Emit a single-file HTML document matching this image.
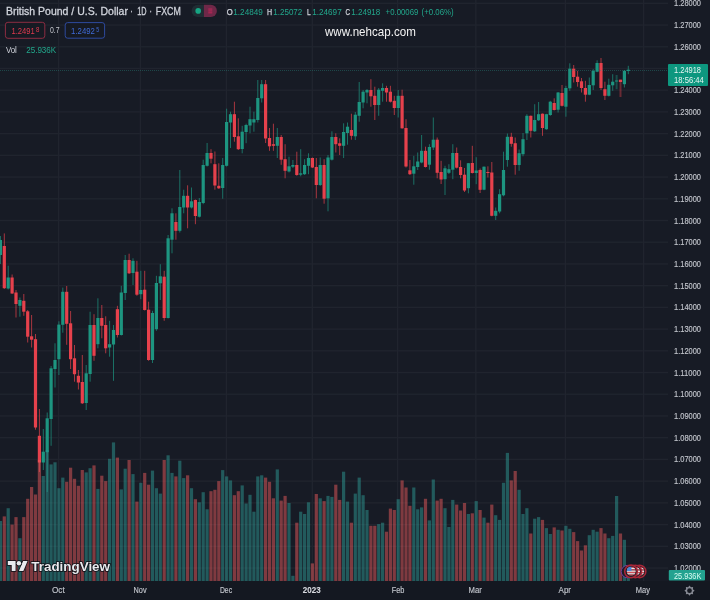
<!DOCTYPE html>
<html><head><meta charset="utf-8"><title>GBPUSD chart</title><style>
html,body{margin:0;padding:0;background:#171b25;}
#c{position:relative;width:710px;height:600px;overflow:hidden;}
svg{position:absolute;left:0;top:0;display:block;}
</style></head><body><div id="c">
<svg width="710" height="600" viewBox="0 0 710 600">
<rect x="0" y="0" width="710" height="600" fill="#171b25"/>
<rect x="0" y="581" width="710" height="19" fill="#141821"/>
<rect x="0" y="2.60" width="668" height="1.4" fill="#20242e"/>
<rect x="0" y="24.32" width="668" height="1.4" fill="#20242e"/>
<rect x="0" y="46.04" width="668" height="1.4" fill="#20242e"/>
<rect x="0" y="67.76" width="668" height="1.4" fill="#20242e"/>
<rect x="0" y="89.48" width="668" height="1.4" fill="#20242e"/>
<rect x="0" y="111.20" width="668" height="1.4" fill="#20242e"/>
<rect x="0" y="132.92" width="668" height="1.4" fill="#20242e"/>
<rect x="0" y="154.64" width="668" height="1.4" fill="#20242e"/>
<rect x="0" y="176.36" width="668" height="1.4" fill="#20242e"/>
<rect x="0" y="198.08" width="668" height="1.4" fill="#20242e"/>
<rect x="0" y="219.80" width="668" height="1.4" fill="#20242e"/>
<rect x="0" y="241.52" width="668" height="1.4" fill="#20242e"/>
<rect x="0" y="263.24" width="668" height="1.4" fill="#20242e"/>
<rect x="0" y="284.96" width="668" height="1.4" fill="#20242e"/>
<rect x="0" y="306.68" width="668" height="1.4" fill="#20242e"/>
<rect x="0" y="328.40" width="668" height="1.4" fill="#20242e"/>
<rect x="0" y="350.12" width="668" height="1.4" fill="#20242e"/>
<rect x="0" y="371.84" width="668" height="1.4" fill="#20242e"/>
<rect x="0" y="393.56" width="668" height="1.4" fill="#20242e"/>
<rect x="0" y="415.28" width="668" height="1.4" fill="#20242e"/>
<rect x="0" y="437.00" width="668" height="1.4" fill="#20242e"/>
<rect x="0" y="458.72" width="668" height="1.4" fill="#20242e"/>
<rect x="0" y="480.44" width="668" height="1.4" fill="#20242e"/>
<rect x="0" y="502.16" width="668" height="1.4" fill="#20242e"/>
<rect x="0" y="523.88" width="668" height="1.4" fill="#20242e"/>
<rect x="0" y="545.60" width="668" height="1.4" fill="#20242e"/>
<rect x="0" y="567.32" width="668" height="1.4" fill="#20242e"/>
<rect x="57.9" y="0" width="1.4" height="581" fill="#20242e"/>
<rect x="139.7" y="0" width="1.4" height="581" fill="#20242e"/>
<rect x="225.7" y="0" width="1.4" height="581" fill="#20242e"/>
<rect x="311.6" y="0" width="1.4" height="581" fill="#20242e"/>
<rect x="396.9" y="0" width="1.4" height="581" fill="#20242e"/>
<rect x="475.1" y="0" width="1.4" height="581" fill="#20242e"/>
<rect x="564.7" y="0" width="1.4" height="581" fill="#20242e"/>
<rect x="642.9" y="0" width="1.4" height="581" fill="#20242e"/>
<rect x="-0.10" y="236.00" width="1" height="28.00" fill="#1d9580" opacity="0.7"/>
<rect x="-1.20" y="240.00" width="3.2" height="15.00" fill="#1d9580"/>
<rect x="3.80" y="233.40" width="1" height="55.60" fill="#e6414c" opacity="0.7"/>
<rect x="2.70" y="246.00" width="3.2" height="42.20" fill="#e6414c"/>
<rect x="7.70" y="265.70" width="1" height="23.80" fill="#1d9580" opacity="0.7"/>
<rect x="6.60" y="277.50" width="3.2" height="11.00" fill="#1d9580"/>
<rect x="11.60" y="274.50" width="1" height="19.50" fill="#e6414c" opacity="0.7"/>
<rect x="10.50" y="277.50" width="3.2" height="16.00" fill="#e6414c"/>
<rect x="15.50" y="290.00" width="1" height="27.50" fill="#e6414c" opacity="0.7"/>
<rect x="14.40" y="292.50" width="3.2" height="11.50" fill="#e6414c"/>
<rect x="19.40" y="297.50" width="1" height="19.20" fill="#1d9580" opacity="0.7"/>
<rect x="18.30" y="300.00" width="3.2" height="5.80" fill="#1d9580"/>
<rect x="23.30" y="294.00" width="1" height="21.80" fill="#e6414c" opacity="0.7"/>
<rect x="22.20" y="300.80" width="3.2" height="10.90" fill="#e6414c"/>
<rect x="27.20" y="310.00" width="1" height="32.50" fill="#e6414c" opacity="0.7"/>
<rect x="26.10" y="311.30" width="3.2" height="25.40" fill="#e6414c"/>
<rect x="31.10" y="315.00" width="1" height="32.50" fill="#e6414c" opacity="0.7"/>
<rect x="30.00" y="336.30" width="3.2" height="3.40" fill="#e6414c"/>
<rect x="35.00" y="334.00" width="1" height="95.70" fill="#e6414c" opacity="0.7"/>
<rect x="33.90" y="339.20" width="3.2" height="88.30" fill="#e6414c"/>
<rect x="38.90" y="409.00" width="1" height="63.00" fill="#e6414c" opacity="0.7"/>
<rect x="37.80" y="435.80" width="3.2" height="26.70" fill="#e6414c"/>
<rect x="42.80" y="429.00" width="1" height="41.00" fill="#1d9580" opacity="0.7"/>
<rect x="41.70" y="451.70" width="3.2" height="10.80" fill="#1d9580"/>
<rect x="46.70" y="412.50" width="1" height="79.50" fill="#1d9580" opacity="0.7"/>
<rect x="45.60" y="418.30" width="3.2" height="33.90" fill="#1d9580"/>
<rect x="50.60" y="366.00" width="1" height="79.80" fill="#1d9580" opacity="0.7"/>
<rect x="49.50" y="368.30" width="3.2" height="50.70" fill="#1d9580"/>
<rect x="54.50" y="343.30" width="1" height="44.20" fill="#1d9580" opacity="0.7"/>
<rect x="53.40" y="360.00" width="3.2" height="9.00" fill="#1d9580"/>
<rect x="58.40" y="321.30" width="1" height="53.70" fill="#1d9580" opacity="0.7"/>
<rect x="57.30" y="324.60" width="3.2" height="34.60" fill="#1d9580"/>
<rect x="62.30" y="287.60" width="1" height="45.10" fill="#1d9580" opacity="0.7"/>
<rect x="61.20" y="291.80" width="3.2" height="33.00" fill="#1d9580"/>
<rect x="66.20" y="286.00" width="1" height="58.80" fill="#e6414c" opacity="0.7"/>
<rect x="65.10" y="291.80" width="3.2" height="32.00" fill="#e6414c"/>
<rect x="70.10" y="311.00" width="1" height="58.00" fill="#e6414c" opacity="0.7"/>
<rect x="69.00" y="323.30" width="3.2" height="35.90" fill="#e6414c"/>
<rect x="74.00" y="345.00" width="1" height="36.70" fill="#e6414c" opacity="0.7"/>
<rect x="72.90" y="358.30" width="3.2" height="15.90" fill="#e6414c"/>
<rect x="77.90" y="370.00" width="1" height="19.50" fill="#e6414c" opacity="0.7"/>
<rect x="76.80" y="375.80" width="3.2" height="6.70" fill="#e6414c"/>
<rect x="81.80" y="355.00" width="1" height="49.00" fill="#e6414c" opacity="0.7"/>
<rect x="80.70" y="382.00" width="3.2" height="21.30" fill="#e6414c"/>
<rect x="85.70" y="365.00" width="1" height="45.00" fill="#1d9580" opacity="0.7"/>
<rect x="84.60" y="373.30" width="3.2" height="29.70" fill="#1d9580"/>
<rect x="89.60" y="311.70" width="1" height="70.00" fill="#1d9580" opacity="0.7"/>
<rect x="88.50" y="325.00" width="3.2" height="49.00" fill="#1d9580"/>
<rect x="93.50" y="314.20" width="1" height="46.60" fill="#e6414c" opacity="0.7"/>
<rect x="92.40" y="325.00" width="3.2" height="30.80" fill="#e6414c"/>
<rect x="97.40" y="298.30" width="1" height="50.00" fill="#1d9580" opacity="0.7"/>
<rect x="96.30" y="318.00" width="3.2" height="26.20" fill="#1d9580"/>
<rect x="101.30" y="305.00" width="1" height="33.30" fill="#e6414c" opacity="0.7"/>
<rect x="100.20" y="318.00" width="3.2" height="7.80" fill="#e6414c"/>
<rect x="105.20" y="316.30" width="1" height="37.00" fill="#e6414c" opacity="0.7"/>
<rect x="104.10" y="325.00" width="3.2" height="23.30" fill="#e6414c"/>
<rect x="109.10" y="320.80" width="1" height="35.90" fill="#1d9580" opacity="0.7"/>
<rect x="108.00" y="344.20" width="3.2" height="3.30" fill="#1d9580"/>
<rect x="113.00" y="325.00" width="1" height="55.80" fill="#1d9580" opacity="0.7"/>
<rect x="111.90" y="330.00" width="3.2" height="14.50" fill="#1d9580"/>
<rect x="116.90" y="305.80" width="1" height="31.70" fill="#e6414c" opacity="0.7"/>
<rect x="115.80" y="309.20" width="3.2" height="25.80" fill="#e6414c"/>
<rect x="120.80" y="285.80" width="1" height="49.70" fill="#1d9580" opacity="0.7"/>
<rect x="119.70" y="292.50" width="3.2" height="42.50" fill="#1d9580"/>
<rect x="124.70" y="255.00" width="1" height="45.00" fill="#1d9580" opacity="0.7"/>
<rect x="123.60" y="260.00" width="3.2" height="33.00" fill="#1d9580"/>
<rect x="128.60" y="253.70" width="1" height="20.30" fill="#e6414c" opacity="0.7"/>
<rect x="127.50" y="260.00" width="3.2" height="13.30" fill="#e6414c"/>
<rect x="132.50" y="258.30" width="1" height="26.70" fill="#1d9580" opacity="0.7"/>
<rect x="131.40" y="260.80" width="3.2" height="12.20" fill="#1d9580"/>
<rect x="136.40" y="260.80" width="1" height="35.00" fill="#e6414c" opacity="0.7"/>
<rect x="135.30" y="271.70" width="3.2" height="23.00" fill="#e6414c"/>
<rect x="140.30" y="270.80" width="1" height="28.40" fill="#1d9580" opacity="0.7"/>
<rect x="139.20" y="290.00" width="3.2" height="4.20" fill="#1d9580"/>
<rect x="144.20" y="270.80" width="1" height="39.70" fill="#e6414c" opacity="0.7"/>
<rect x="143.10" y="289.70" width="3.2" height="20.30" fill="#e6414c"/>
<rect x="148.10" y="301.70" width="1" height="59.10" fill="#e6414c" opacity="0.7"/>
<rect x="147.00" y="309.70" width="3.2" height="50.30" fill="#e6414c"/>
<rect x="152.00" y="310.80" width="1" height="52.20" fill="#1d9580" opacity="0.7"/>
<rect x="150.90" y="313.00" width="3.2" height="47.00" fill="#1d9580"/>
<rect x="155.90" y="275.80" width="1" height="55.00" fill="#1d9580" opacity="0.7"/>
<rect x="154.80" y="283.00" width="3.2" height="46.20" fill="#1d9580"/>
<rect x="159.80" y="264.20" width="1" height="35.80" fill="#1d9580" opacity="0.7"/>
<rect x="158.70" y="276.30" width="3.2" height="7.00" fill="#1d9580"/>
<rect x="163.70" y="270.80" width="1" height="50.00" fill="#e6414c" opacity="0.7"/>
<rect x="162.60" y="276.70" width="3.2" height="41.30" fill="#e6414c"/>
<rect x="167.60" y="235.00" width="1" height="83.50" fill="#1d9580" opacity="0.7"/>
<rect x="166.50" y="238.30" width="3.2" height="79.70" fill="#1d9580"/>
<rect x="171.50" y="208.30" width="1" height="45.00" fill="#1d9580" opacity="0.7"/>
<rect x="170.40" y="213.30" width="3.2" height="26.40" fill="#1d9580"/>
<rect x="175.40" y="213.30" width="1" height="26.40" fill="#e6414c" opacity="0.7"/>
<rect x="174.30" y="222.00" width="3.2" height="8.80" fill="#e6414c"/>
<rect x="179.30" y="170.00" width="1" height="62.50" fill="#1d9580" opacity="0.7"/>
<rect x="178.20" y="207.00" width="3.2" height="23.80" fill="#1d9580"/>
<rect x="183.20" y="189.70" width="1" height="23.60" fill="#1d9580" opacity="0.7"/>
<rect x="182.10" y="195.80" width="3.2" height="11.70" fill="#1d9580"/>
<rect x="187.10" y="185.30" width="1" height="43.00" fill="#e6414c" opacity="0.7"/>
<rect x="186.00" y="195.80" width="3.2" height="11.70" fill="#e6414c"/>
<rect x="191.00" y="187.50" width="1" height="21.00" fill="#1d9580" opacity="0.7"/>
<rect x="189.90" y="201.30" width="3.2" height="6.20" fill="#1d9580"/>
<rect x="194.90" y="199.50" width="1" height="24.70" fill="#e6414c" opacity="0.7"/>
<rect x="193.80" y="200.00" width="3.2" height="16.00" fill="#e6414c"/>
<rect x="198.80" y="198.00" width="1" height="19.50" fill="#1d9580" opacity="0.7"/>
<rect x="197.70" y="202.00" width="3.2" height="14.70" fill="#1d9580"/>
<rect x="202.70" y="159.70" width="1" height="44.50" fill="#1d9580" opacity="0.7"/>
<rect x="201.60" y="165.00" width="3.2" height="38.00" fill="#1d9580"/>
<rect x="206.60" y="143.00" width="1" height="23.50" fill="#1d9580" opacity="0.7"/>
<rect x="205.50" y="153.00" width="3.2" height="12.80" fill="#1d9580"/>
<rect x="210.50" y="149.20" width="1" height="14.10" fill="#e6414c" opacity="0.7"/>
<rect x="209.40" y="153.00" width="3.2" height="5.70" fill="#e6414c"/>
<rect x="214.40" y="151.50" width="1" height="38.20" fill="#e6414c" opacity="0.7"/>
<rect x="213.30" y="164.20" width="3.2" height="21.30" fill="#e6414c"/>
<rect x="218.30" y="163.30" width="1" height="25.70" fill="#e6414c" opacity="0.7"/>
<rect x="217.20" y="185.80" width="3.2" height="2.50" fill="#e6414c"/>
<rect x="222.20" y="158.00" width="1" height="40.70" fill="#1d9580" opacity="0.7"/>
<rect x="221.10" y="165.00" width="3.2" height="23.00" fill="#1d9580"/>
<rect x="226.10" y="108.70" width="1" height="57.80" fill="#1d9580" opacity="0.7"/>
<rect x="225.00" y="122.00" width="3.2" height="43.80" fill="#1d9580"/>
<rect x="230.00" y="111.70" width="1" height="36.30" fill="#1d9580" opacity="0.7"/>
<rect x="228.90" y="114.20" width="3.2" height="8.30" fill="#1d9580"/>
<rect x="233.90" y="101.70" width="1" height="40.00" fill="#e6414c" opacity="0.7"/>
<rect x="232.80" y="114.20" width="3.2" height="22.80" fill="#e6414c"/>
<rect x="237.80" y="118.30" width="1" height="31.70" fill="#e6414c" opacity="0.7"/>
<rect x="236.70" y="136.30" width="3.2" height="12.90" fill="#e6414c"/>
<rect x="241.70" y="125.80" width="1" height="27.50" fill="#1d9580" opacity="0.7"/>
<rect x="240.60" y="131.70" width="3.2" height="17.30" fill="#1d9580"/>
<rect x="245.60" y="123.70" width="1" height="19.50" fill="#1d9580" opacity="0.7"/>
<rect x="244.50" y="125.00" width="3.2" height="7.00" fill="#1d9580"/>
<rect x="249.50" y="106.70" width="1" height="26.60" fill="#1d9580" opacity="0.7"/>
<rect x="248.40" y="119.20" width="3.2" height="6.30" fill="#1d9580"/>
<rect x="253.40" y="111.70" width="1" height="20.00" fill="#1d9580" opacity="0.7"/>
<rect x="252.30" y="119.20" width="3.2" height="3.30" fill="#1d9580"/>
<rect x="257.30" y="80.00" width="1" height="42.50" fill="#1d9580" opacity="0.7"/>
<rect x="256.20" y="98.00" width="3.2" height="22.00" fill="#1d9580"/>
<rect x="261.20" y="80.00" width="1" height="22.50" fill="#1d9580" opacity="0.7"/>
<rect x="260.10" y="84.20" width="3.2" height="14.10" fill="#1d9580"/>
<rect x="265.10" y="80.00" width="1" height="63.00" fill="#e6414c" opacity="0.7"/>
<rect x="264.00" y="84.20" width="3.2" height="54.30" fill="#e6414c"/>
<rect x="269.00" y="128.00" width="1" height="22.80" fill="#e6414c" opacity="0.7"/>
<rect x="267.90" y="138.00" width="3.2" height="8.30" fill="#e6414c"/>
<rect x="272.90" y="123.70" width="1" height="27.10" fill="#e6414c" opacity="0.7"/>
<rect x="271.80" y="144.20" width="3.2" height="1.60" fill="#e6414c"/>
<rect x="276.80" y="128.00" width="1" height="30.00" fill="#1d9580" opacity="0.7"/>
<rect x="275.70" y="137.00" width="3.2" height="8.80" fill="#1d9580"/>
<rect x="280.70" y="135.00" width="1" height="29.80" fill="#e6414c" opacity="0.7"/>
<rect x="279.60" y="137.00" width="3.2" height="22.70" fill="#e6414c"/>
<rect x="284.60" y="144.20" width="1" height="34.10" fill="#e6414c" opacity="0.7"/>
<rect x="283.50" y="159.20" width="3.2" height="11.60" fill="#e6414c"/>
<rect x="288.50" y="156.70" width="1" height="15.80" fill="#1d9580" opacity="0.7"/>
<rect x="287.40" y="166.30" width="3.2" height="5.20" fill="#1d9580"/>
<rect x="292.40" y="160.00" width="1" height="8.00" fill="#1d9580" opacity="0.7"/>
<rect x="291.30" y="165.00" width="3.2" height="1.70" fill="#1d9580"/>
<rect x="296.30" y="151.70" width="1" height="24.10" fill="#e6414c" opacity="0.7"/>
<rect x="295.20" y="165.00" width="3.2" height="10.00" fill="#e6414c"/>
<rect x="300.20" y="149.20" width="1" height="27.10" fill="#1d9580" opacity="0.7"/>
<rect x="299.10" y="173.30" width="3.2" height="1.40" fill="#1d9580"/>
<rect x="304.10" y="159.20" width="1" height="15.80" fill="#1d9580" opacity="0.7"/>
<rect x="303.00" y="165.00" width="3.2" height="9.20" fill="#1d9580"/>
<rect x="308.00" y="153.30" width="1" height="20.90" fill="#1d9580" opacity="0.7"/>
<rect x="306.90" y="158.00" width="3.2" height="7.80" fill="#1d9580"/>
<rect x="311.90" y="157.50" width="1" height="10.50" fill="#e6414c" opacity="0.7"/>
<rect x="310.80" y="158.00" width="3.2" height="9.50" fill="#e6414c"/>
<rect x="315.80" y="158.00" width="1" height="40.30" fill="#e6414c" opacity="0.7"/>
<rect x="314.70" y="167.00" width="3.2" height="18.00" fill="#e6414c"/>
<rect x="319.70" y="157.50" width="1" height="28.50" fill="#1d9580" opacity="0.7"/>
<rect x="318.60" y="165.00" width="3.2" height="20.00" fill="#1d9580"/>
<rect x="323.60" y="159.20" width="1" height="44.50" fill="#e6414c" opacity="0.7"/>
<rect x="322.50" y="165.00" width="3.2" height="33.70" fill="#e6414c"/>
<rect x="327.50" y="155.00" width="1" height="56.30" fill="#1d9580" opacity="0.7"/>
<rect x="326.40" y="157.50" width="3.2" height="40.80" fill="#1d9580"/>
<rect x="331.40" y="131.30" width="1" height="29.20" fill="#1d9580" opacity="0.7"/>
<rect x="330.30" y="137.00" width="3.2" height="22.70" fill="#1d9580"/>
<rect x="335.30" y="133.30" width="1" height="19.20" fill="#e6414c" opacity="0.7"/>
<rect x="334.20" y="137.00" width="3.2" height="7.20" fill="#e6414c"/>
<rect x="339.20" y="138.30" width="1" height="16.70" fill="#e6414c" opacity="0.7"/>
<rect x="338.10" y="143.30" width="3.2" height="2.50" fill="#e6414c"/>
<rect x="343.10" y="123.30" width="1" height="34.70" fill="#1d9580" opacity="0.7"/>
<rect x="342.00" y="132.00" width="3.2" height="13.80" fill="#1d9580"/>
<rect x="347.00" y="122.50" width="1" height="22.20" fill="#1d9580" opacity="0.7"/>
<rect x="345.90" y="126.70" width="3.2" height="6.30" fill="#1d9580"/>
<rect x="350.90" y="113.70" width="1" height="26.00" fill="#e6414c" opacity="0.7"/>
<rect x="349.80" y="130.00" width="3.2" height="5.80" fill="#e6414c"/>
<rect x="354.80" y="112.00" width="1" height="28.00" fill="#1d9580" opacity="0.7"/>
<rect x="353.70" y="114.70" width="3.2" height="21.60" fill="#1d9580"/>
<rect x="358.70" y="82.00" width="1" height="39.70" fill="#1d9580" opacity="0.7"/>
<rect x="357.60" y="102.00" width="3.2" height="13.80" fill="#1d9580"/>
<rect x="362.60" y="90.00" width="1" height="18.30" fill="#1d9580" opacity="0.7"/>
<rect x="361.50" y="91.70" width="3.2" height="10.80" fill="#1d9580"/>
<rect x="366.50" y="89.00" width="1" height="14.30" fill="#1d9580" opacity="0.7"/>
<rect x="365.40" y="90.00" width="3.2" height="2.50" fill="#1d9580"/>
<rect x="370.40" y="79.20" width="1" height="27.50" fill="#e6414c" opacity="0.7"/>
<rect x="369.30" y="90.00" width="3.2" height="6.30" fill="#e6414c"/>
<rect x="374.30" y="86.70" width="1" height="33.30" fill="#e6414c" opacity="0.7"/>
<rect x="373.20" y="95.80" width="3.2" height="9.20" fill="#e6414c"/>
<rect x="378.20" y="88.00" width="1" height="27.80" fill="#1d9580" opacity="0.7"/>
<rect x="377.10" y="89.70" width="3.2" height="15.30" fill="#1d9580"/>
<rect x="382.10" y="83.30" width="1" height="18.40" fill="#1d9580" opacity="0.7"/>
<rect x="381.00" y="88.00" width="3.2" height="2.80" fill="#1d9580"/>
<rect x="386.00" y="85.80" width="1" height="15.90" fill="#e6414c" opacity="0.7"/>
<rect x="384.90" y="88.00" width="3.2" height="4.50" fill="#e6414c"/>
<rect x="389.90" y="85.80" width="1" height="16.70" fill="#e6414c" opacity="0.7"/>
<rect x="388.80" y="91.70" width="3.2" height="10.00" fill="#e6414c"/>
<rect x="393.80" y="95.80" width="1" height="19.20" fill="#e6414c" opacity="0.7"/>
<rect x="392.70" y="100.80" width="3.2" height="7.20" fill="#e6414c"/>
<rect x="397.70" y="90.00" width="1" height="27.50" fill="#1d9580" opacity="0.7"/>
<rect x="396.60" y="95.80" width="3.2" height="12.20" fill="#1d9580"/>
<rect x="401.60" y="89.70" width="1" height="39.00" fill="#e6414c" opacity="0.7"/>
<rect x="400.50" y="95.80" width="3.2" height="32.50" fill="#e6414c"/>
<rect x="405.50" y="119.20" width="1" height="48.30" fill="#e6414c" opacity="0.7"/>
<rect x="404.40" y="128.00" width="3.2" height="38.50" fill="#e6414c"/>
<rect x="409.40" y="160.00" width="1" height="15.00" fill="#e6414c" opacity="0.7"/>
<rect x="408.30" y="170.30" width="3.2" height="3.90" fill="#e6414c"/>
<rect x="413.30" y="155.80" width="1" height="28.90" fill="#1d9580" opacity="0.7"/>
<rect x="412.20" y="166.30" width="3.2" height="7.40" fill="#1d9580"/>
<rect x="417.20" y="152.50" width="1" height="17.50" fill="#1d9580" opacity="0.7"/>
<rect x="416.10" y="161.50" width="3.2" height="5.50" fill="#1d9580"/>
<rect x="421.10" y="135.00" width="1" height="28.30" fill="#1d9580" opacity="0.7"/>
<rect x="420.00" y="150.80" width="3.2" height="11.70" fill="#1d9580"/>
<rect x="425.00" y="146.70" width="1" height="20.80" fill="#e6414c" opacity="0.7"/>
<rect x="423.90" y="150.80" width="3.2" height="16.20" fill="#e6414c"/>
<rect x="428.90" y="144.20" width="1" height="25.50" fill="#1d9580" opacity="0.7"/>
<rect x="427.80" y="147.00" width="3.2" height="17.70" fill="#1d9580"/>
<rect x="432.80" y="117.50" width="1" height="32.50" fill="#1d9580" opacity="0.7"/>
<rect x="431.70" y="139.70" width="3.2" height="7.80" fill="#1d9580"/>
<rect x="436.70" y="137.50" width="1" height="40.80" fill="#e6414c" opacity="0.7"/>
<rect x="435.60" y="139.70" width="3.2" height="33.10" fill="#e6414c"/>
<rect x="440.60" y="160.80" width="1" height="23.20" fill="#e6414c" opacity="0.7"/>
<rect x="439.50" y="172.00" width="3.2" height="7.50" fill="#e6414c"/>
<rect x="444.50" y="165.80" width="1" height="29.20" fill="#1d9580" opacity="0.7"/>
<rect x="443.40" y="168.30" width="3.2" height="10.90" fill="#1d9580"/>
<rect x="448.40" y="164.20" width="1" height="9.80" fill="#1d9580" opacity="0.7"/>
<rect x="447.30" y="169.20" width="3.2" height="3.60" fill="#1d9580"/>
<rect x="452.30" y="144.20" width="1" height="35.00" fill="#1d9580" opacity="0.7"/>
<rect x="451.20" y="153.00" width="3.2" height="16.70" fill="#1d9580"/>
<rect x="456.20" y="147.50" width="1" height="21.00" fill="#e6414c" opacity="0.7"/>
<rect x="455.10" y="153.00" width="3.2" height="14.70" fill="#e6414c"/>
<rect x="460.10" y="160.30" width="1" height="18.00" fill="#e6414c" opacity="0.7"/>
<rect x="459.00" y="167.00" width="3.2" height="8.00" fill="#e6414c"/>
<rect x="464.00" y="168.00" width="1" height="24.00" fill="#e6414c" opacity="0.7"/>
<rect x="462.90" y="174.70" width="3.2" height="15.80" fill="#e6414c"/>
<rect x="467.90" y="163.00" width="1" height="30.30" fill="#1d9580" opacity="0.7"/>
<rect x="466.80" y="163.20" width="3.2" height="25.00" fill="#1d9580"/>
<rect x="471.80" y="145.80" width="1" height="27.70" fill="#e6414c" opacity="0.7"/>
<rect x="470.70" y="163.00" width="3.2" height="10.00" fill="#e6414c"/>
<rect x="475.70" y="157.20" width="1" height="27.00" fill="#1d9580" opacity="0.7"/>
<rect x="474.60" y="170.50" width="3.2" height="2.50" fill="#1d9580"/>
<rect x="479.60" y="168.50" width="1" height="24.50" fill="#e6414c" opacity="0.7"/>
<rect x="478.50" y="170.00" width="3.2" height="19.80" fill="#e6414c"/>
<rect x="483.50" y="166.50" width="1" height="23.70" fill="#1d9580" opacity="0.7"/>
<rect x="482.40" y="166.70" width="3.2" height="23.00" fill="#1d9580"/>
<rect x="487.40" y="166.30" width="1" height="11.20" fill="#e6414c" opacity="0.7"/>
<rect x="486.30" y="172.00" width="3.2" height="1.00" fill="#e6414c"/>
<rect x="491.30" y="162.00" width="1" height="54.30" fill="#e6414c" opacity="0.7"/>
<rect x="490.20" y="172.50" width="3.2" height="43.30" fill="#e6414c"/>
<rect x="495.20" y="207.50" width="1" height="12.50" fill="#1d9580" opacity="0.7"/>
<rect x="494.10" y="210.80" width="3.2" height="5.00" fill="#1d9580"/>
<rect x="499.10" y="189.20" width="1" height="24.10" fill="#1d9580" opacity="0.7"/>
<rect x="498.00" y="194.20" width="3.2" height="17.30" fill="#1d9580"/>
<rect x="503.00" y="151.70" width="1" height="44.60" fill="#1d9580" opacity="0.7"/>
<rect x="501.90" y="170.00" width="3.2" height="25.30" fill="#1d9580"/>
<rect x="506.90" y="133.50" width="1" height="33.20" fill="#1d9580" opacity="0.7"/>
<rect x="505.80" y="136.80" width="3.2" height="23.20" fill="#1d9580"/>
<rect x="510.80" y="132.80" width="1" height="13.90" fill="#e6414c" opacity="0.7"/>
<rect x="509.70" y="136.80" width="3.2" height="7.00" fill="#e6414c"/>
<rect x="514.70" y="137.50" width="1" height="37.20" fill="#e6414c" opacity="0.7"/>
<rect x="513.60" y="143.20" width="3.2" height="21.80" fill="#e6414c"/>
<rect x="518.60" y="149.50" width="1" height="21.30" fill="#1d9580" opacity="0.7"/>
<rect x="517.50" y="153.20" width="3.2" height="11.80" fill="#1d9580"/>
<rect x="522.50" y="133.00" width="1" height="23.30" fill="#1d9580" opacity="0.7"/>
<rect x="521.40" y="139.20" width="3.2" height="15.00" fill="#1d9580"/>
<rect x="526.40" y="114.20" width="1" height="25.80" fill="#1d9580" opacity="0.7"/>
<rect x="525.30" y="115.80" width="3.2" height="17.50" fill="#1d9580"/>
<rect x="530.30" y="115.50" width="1" height="22.00" fill="#e6414c" opacity="0.7"/>
<rect x="529.20" y="115.80" width="3.2" height="15.00" fill="#e6414c"/>
<rect x="534.20" y="104.20" width="1" height="27.80" fill="#1d9580" opacity="0.7"/>
<rect x="533.10" y="120.00" width="3.2" height="11.30" fill="#1d9580"/>
<rect x="538.10" y="102.00" width="1" height="19.00" fill="#1d9580" opacity="0.7"/>
<rect x="537.00" y="114.20" width="3.2" height="6.10" fill="#1d9580"/>
<rect x="542.00" y="113.50" width="1" height="22.30" fill="#e6414c" opacity="0.7"/>
<rect x="540.90" y="113.70" width="3.2" height="14.30" fill="#e6414c"/>
<rect x="545.90" y="113.80" width="1" height="16.00" fill="#1d9580" opacity="0.7"/>
<rect x="544.80" y="114.20" width="3.2" height="15.00" fill="#1d9580"/>
<rect x="549.80" y="100.80" width="1" height="15.00" fill="#1d9580" opacity="0.7"/>
<rect x="548.70" y="101.70" width="3.2" height="13.30" fill="#1d9580"/>
<rect x="553.70" y="98.30" width="1" height="12.20" fill="#e6414c" opacity="0.7"/>
<rect x="552.60" y="103.00" width="3.2" height="7.00" fill="#e6414c"/>
<rect x="557.60" y="92.00" width="1" height="20.50" fill="#1d9580" opacity="0.7"/>
<rect x="556.50" y="92.50" width="3.2" height="17.20" fill="#1d9580"/>
<rect x="561.50" y="85.00" width="1" height="21.50" fill="#e6414c" opacity="0.7"/>
<rect x="560.40" y="93.00" width="3.2" height="12.80" fill="#e6414c"/>
<rect x="565.40" y="85.80" width="1" height="30.90" fill="#1d9580" opacity="0.7"/>
<rect x="564.30" y="88.00" width="3.2" height="18.70" fill="#1d9580"/>
<rect x="569.30" y="63.30" width="1" height="27.50" fill="#1d9580" opacity="0.7"/>
<rect x="568.20" y="68.70" width="3.2" height="19.60" fill="#1d9580"/>
<rect x="573.20" y="65.00" width="1" height="17.50" fill="#e6414c" opacity="0.7"/>
<rect x="572.10" y="68.70" width="3.2" height="8.30" fill="#e6414c"/>
<rect x="577.10" y="70.80" width="1" height="15.90" fill="#e6414c" opacity="0.7"/>
<rect x="576.00" y="76.70" width="3.2" height="5.30" fill="#e6414c"/>
<rect x="581.00" y="78.00" width="1" height="14.50" fill="#e6414c" opacity="0.7"/>
<rect x="579.90" y="81.30" width="3.2" height="6.70" fill="#e6414c"/>
<rect x="584.90" y="80.80" width="1" height="20.90" fill="#e6414c" opacity="0.7"/>
<rect x="583.80" y="88.00" width="3.2" height="6.70" fill="#e6414c"/>
<rect x="588.80" y="77.50" width="1" height="17.70" fill="#1d9580" opacity="0.7"/>
<rect x="587.70" y="85.00" width="3.2" height="9.70" fill="#1d9580"/>
<rect x="592.70" y="69.20" width="1" height="20.80" fill="#1d9580" opacity="0.7"/>
<rect x="591.60" y="70.80" width="3.2" height="14.50" fill="#1d9580"/>
<rect x="596.60" y="60.30" width="1" height="11.90" fill="#1d9580" opacity="0.7"/>
<rect x="595.50" y="63.00" width="3.2" height="8.70" fill="#1d9580"/>
<rect x="600.50" y="58.00" width="1" height="32.00" fill="#e6414c" opacity="0.7"/>
<rect x="599.40" y="63.00" width="3.2" height="25.00" fill="#e6414c"/>
<rect x="604.40" y="81.70" width="1" height="18.30" fill="#e6414c" opacity="0.7"/>
<rect x="603.30" y="89.20" width="3.2" height="6.60" fill="#e6414c"/>
<rect x="608.30" y="78.70" width="1" height="17.80" fill="#1d9580" opacity="0.7"/>
<rect x="607.20" y="84.80" width="3.2" height="11.00" fill="#1d9580"/>
<rect x="612.20" y="74.20" width="1" height="16.60" fill="#1d9580" opacity="0.7"/>
<rect x="611.10" y="81.70" width="3.2" height="3.60" fill="#1d9580"/>
<rect x="615.60" y="75.00" width="2" height="14.20" fill="#1d9580" opacity="0.4"/>
<rect x="615.00" y="80.50" width="3.2" height="1.00" fill="#1d9580"/>
<rect x="619.50" y="79.50" width="2" height="17.50" fill="#e6414c" opacity="0.4"/>
<rect x="618.90" y="79.70" width="3.2" height="2.30" fill="#e6414c"/>
<rect x="623.90" y="70.00" width="1" height="17.50" fill="#1d9580" opacity="0.7"/>
<rect x="622.80" y="70.80" width="3.2" height="13.40" fill="#1d9580"/>
<rect x="627.80" y="65.80" width="1" height="8.40" fill="#1d9580" opacity="0.7"/>
<rect x="626.70" y="69.70" width="3.2" height="1.30" fill="#1d9580"/>
<rect x="-1.20" y="521.00" width="3.2" height="60.00" fill="rgba(46,153,147,0.5)"/>
<rect x="2.70" y="516.40" width="3.2" height="64.60" fill="rgba(232,89,91,0.5)"/>
<rect x="6.60" y="508.20" width="3.2" height="72.80" fill="rgba(46,153,147,0.5)"/>
<rect x="10.50" y="524.60" width="3.2" height="56.40" fill="rgba(232,89,91,0.5)"/>
<rect x="14.40" y="517.10" width="3.2" height="63.90" fill="rgba(232,89,91,0.5)"/>
<rect x="18.30" y="538.20" width="3.2" height="42.80" fill="rgba(46,153,147,0.5)"/>
<rect x="22.20" y="517.10" width="3.2" height="63.90" fill="rgba(232,89,91,0.5)"/>
<rect x="26.10" y="498.80" width="3.2" height="82.20" fill="rgba(232,89,91,0.5)"/>
<rect x="30.00" y="487.00" width="3.2" height="94.00" fill="rgba(232,89,91,0.5)"/>
<rect x="33.90" y="494.50" width="3.2" height="86.50" fill="rgba(232,89,91,0.5)"/>
<rect x="37.80" y="460.00" width="3.2" height="121.00" fill="rgba(232,89,91,0.5)"/>
<rect x="41.70" y="476.00" width="3.2" height="105.00" fill="rgba(46,153,147,0.5)"/>
<rect x="45.60" y="450.00" width="3.2" height="131.00" fill="rgba(46,153,147,0.5)"/>
<rect x="49.50" y="464.40" width="3.2" height="116.60" fill="rgba(46,153,147,0.5)"/>
<rect x="53.40" y="462.30" width="3.2" height="118.70" fill="rgba(46,153,147,0.5)"/>
<rect x="57.30" y="488.20" width="3.2" height="92.80" fill="rgba(46,153,147,0.5)"/>
<rect x="61.20" y="477.60" width="3.2" height="103.40" fill="rgba(46,153,147,0.5)"/>
<rect x="65.10" y="481.80" width="3.2" height="99.20" fill="rgba(232,89,91,0.5)"/>
<rect x="69.00" y="467.70" width="3.2" height="113.30" fill="rgba(232,89,91,0.5)"/>
<rect x="72.90" y="478.80" width="3.2" height="102.20" fill="rgba(232,89,91,0.5)"/>
<rect x="76.80" y="485.80" width="3.2" height="95.20" fill="rgba(232,89,91,0.5)"/>
<rect x="80.70" y="470.00" width="3.2" height="111.00" fill="rgba(232,89,91,0.5)"/>
<rect x="84.60" y="472.40" width="3.2" height="108.60" fill="rgba(46,153,147,0.5)"/>
<rect x="88.50" y="468.20" width="3.2" height="112.80" fill="rgba(46,153,147,0.5)"/>
<rect x="92.40" y="465.40" width="3.2" height="115.60" fill="rgba(232,89,91,0.5)"/>
<rect x="96.30" y="488.90" width="3.2" height="92.10" fill="rgba(46,153,147,0.5)"/>
<rect x="100.20" y="475.70" width="3.2" height="105.30" fill="rgba(232,89,91,0.5)"/>
<rect x="104.10" y="481.10" width="3.2" height="99.90" fill="rgba(232,89,91,0.5)"/>
<rect x="108.00" y="458.80" width="3.2" height="122.20" fill="rgba(46,153,147,0.5)"/>
<rect x="111.90" y="442.40" width="3.2" height="138.60" fill="rgba(46,153,147,0.5)"/>
<rect x="115.80" y="457.60" width="3.2" height="123.40" fill="rgba(232,89,91,0.5)"/>
<rect x="119.70" y="489.40" width="3.2" height="91.60" fill="rgba(46,153,147,0.5)"/>
<rect x="123.60" y="468.70" width="3.2" height="112.30" fill="rgba(46,153,147,0.5)"/>
<rect x="127.50" y="460.00" width="3.2" height="121.00" fill="rgba(232,89,91,0.5)"/>
<rect x="131.40" y="474.10" width="3.2" height="106.90" fill="rgba(46,153,147,0.5)"/>
<rect x="135.30" y="501.60" width="3.2" height="79.40" fill="rgba(232,89,91,0.5)"/>
<rect x="139.20" y="482.80" width="3.2" height="98.20" fill="rgba(46,153,147,0.5)"/>
<rect x="143.10" y="472.90" width="3.2" height="108.10" fill="rgba(232,89,91,0.5)"/>
<rect x="147.00" y="484.70" width="3.2" height="96.30" fill="rgba(232,89,91,0.5)"/>
<rect x="150.90" y="470.60" width="3.2" height="110.40" fill="rgba(46,153,147,0.5)"/>
<rect x="154.80" y="488.20" width="3.2" height="92.80" fill="rgba(46,153,147,0.5)"/>
<rect x="158.70" y="493.60" width="3.2" height="87.40" fill="rgba(46,153,147,0.5)"/>
<rect x="162.60" y="460.00" width="3.2" height="121.00" fill="rgba(232,89,91,0.5)"/>
<rect x="166.50" y="455.30" width="3.2" height="125.70" fill="rgba(46,153,147,0.5)"/>
<rect x="170.40" y="472.90" width="3.2" height="108.10" fill="rgba(46,153,147,0.5)"/>
<rect x="174.30" y="476.40" width="3.2" height="104.60" fill="rgba(232,89,91,0.5)"/>
<rect x="178.20" y="460.70" width="3.2" height="120.30" fill="rgba(46,153,147,0.5)"/>
<rect x="182.10" y="478.10" width="3.2" height="102.90" fill="rgba(46,153,147,0.5)"/>
<rect x="186.00" y="475.30" width="3.2" height="105.70" fill="rgba(232,89,91,0.5)"/>
<rect x="189.90" y="488.20" width="3.2" height="92.80" fill="rgba(46,153,147,0.5)"/>
<rect x="193.80" y="499.20" width="3.2" height="81.80" fill="rgba(232,89,91,0.5)"/>
<rect x="197.70" y="502.30" width="3.2" height="78.70" fill="rgba(46,153,147,0.5)"/>
<rect x="201.60" y="492.20" width="3.2" height="88.80" fill="rgba(46,153,147,0.5)"/>
<rect x="205.50" y="509.30" width="3.2" height="71.70" fill="rgba(46,153,147,0.5)"/>
<rect x="209.40" y="491.20" width="3.2" height="89.80" fill="rgba(232,89,91,0.5)"/>
<rect x="213.30" y="489.80" width="3.2" height="91.20" fill="rgba(232,89,91,0.5)"/>
<rect x="217.20" y="481.10" width="3.2" height="99.90" fill="rgba(232,89,91,0.5)"/>
<rect x="221.10" y="470.10" width="3.2" height="110.90" fill="rgba(46,153,147,0.5)"/>
<rect x="225.00" y="476.40" width="3.2" height="104.60" fill="rgba(46,153,147,0.5)"/>
<rect x="228.90" y="480.40" width="3.2" height="100.60" fill="rgba(46,153,147,0.5)"/>
<rect x="232.80" y="495.20" width="3.2" height="85.80" fill="rgba(232,89,91,0.5)"/>
<rect x="236.70" y="491.20" width="3.2" height="89.80" fill="rgba(232,89,91,0.5)"/>
<rect x="240.60" y="485.40" width="3.2" height="95.60" fill="rgba(46,153,147,0.5)"/>
<rect x="244.50" y="503.50" width="3.2" height="77.50" fill="rgba(46,153,147,0.5)"/>
<rect x="248.40" y="494.80" width="3.2" height="86.20" fill="rgba(46,153,147,0.5)"/>
<rect x="252.30" y="511.70" width="3.2" height="69.30" fill="rgba(46,153,147,0.5)"/>
<rect x="256.20" y="476.40" width="3.2" height="104.60" fill="rgba(46,153,147,0.5)"/>
<rect x="260.10" y="475.30" width="3.2" height="105.70" fill="rgba(46,153,147,0.5)"/>
<rect x="264.00" y="477.60" width="3.2" height="103.40" fill="rgba(232,89,91,0.5)"/>
<rect x="267.90" y="481.80" width="3.2" height="99.20" fill="rgba(232,89,91,0.5)"/>
<rect x="271.80" y="498.30" width="3.2" height="82.70" fill="rgba(232,89,91,0.5)"/>
<rect x="275.70" y="469.40" width="3.2" height="111.60" fill="rgba(46,153,147,0.5)"/>
<rect x="279.60" y="500.60" width="3.2" height="80.40" fill="rgba(232,89,91,0.5)"/>
<rect x="283.50" y="495.90" width="3.2" height="85.10" fill="rgba(232,89,91,0.5)"/>
<rect x="287.40" y="503.00" width="3.2" height="78.00" fill="rgba(46,153,147,0.5)"/>
<rect x="291.30" y="575.80" width="3.2" height="5.20" fill="rgba(46,153,147,0.5)"/>
<rect x="295.20" y="522.70" width="3.2" height="58.30" fill="rgba(232,89,91,0.5)"/>
<rect x="299.10" y="511.70" width="3.2" height="69.30" fill="rgba(46,153,147,0.5)"/>
<rect x="303.00" y="514.00" width="3.2" height="67.00" fill="rgba(46,153,147,0.5)"/>
<rect x="306.90" y="502.30" width="3.2" height="78.70" fill="rgba(46,153,147,0.5)"/>
<rect x="310.80" y="563.40" width="3.2" height="17.60" fill="rgba(232,89,91,0.5)"/>
<rect x="314.70" y="494.00" width="3.2" height="87.00" fill="rgba(232,89,91,0.5)"/>
<rect x="318.60" y="498.30" width="3.2" height="82.70" fill="rgba(46,153,147,0.5)"/>
<rect x="322.50" y="501.10" width="3.2" height="79.90" fill="rgba(232,89,91,0.5)"/>
<rect x="326.40" y="495.90" width="3.2" height="85.10" fill="rgba(46,153,147,0.5)"/>
<rect x="330.30" y="496.90" width="3.2" height="84.10" fill="rgba(46,153,147,0.5)"/>
<rect x="334.20" y="484.70" width="3.2" height="96.30" fill="rgba(232,89,91,0.5)"/>
<rect x="338.10" y="499.90" width="3.2" height="81.10" fill="rgba(232,89,91,0.5)"/>
<rect x="342.00" y="471.70" width="3.2" height="109.30" fill="rgba(46,153,147,0.5)"/>
<rect x="345.90" y="501.60" width="3.2" height="79.40" fill="rgba(46,153,147,0.5)"/>
<rect x="349.80" y="522.70" width="3.2" height="58.30" fill="rgba(232,89,91,0.5)"/>
<rect x="353.70" y="493.60" width="3.2" height="87.40" fill="rgba(46,153,147,0.5)"/>
<rect x="357.60" y="477.60" width="3.2" height="103.40" fill="rgba(46,153,147,0.5)"/>
<rect x="361.50" y="495.20" width="3.2" height="85.80" fill="rgba(46,153,147,0.5)"/>
<rect x="365.40" y="510.00" width="3.2" height="71.00" fill="rgba(46,153,147,0.5)"/>
<rect x="369.30" y="525.80" width="3.2" height="55.20" fill="rgba(232,89,91,0.5)"/>
<rect x="373.20" y="525.80" width="3.2" height="55.20" fill="rgba(232,89,91,0.5)"/>
<rect x="377.10" y="524.10" width="3.2" height="56.90" fill="rgba(46,153,147,0.5)"/>
<rect x="381.00" y="522.70" width="3.2" height="58.30" fill="rgba(46,153,147,0.5)"/>
<rect x="384.90" y="531.70" width="3.2" height="49.30" fill="rgba(232,89,91,0.5)"/>
<rect x="388.80" y="508.60" width="3.2" height="72.40" fill="rgba(232,89,91,0.5)"/>
<rect x="392.70" y="510.00" width="3.2" height="71.00" fill="rgba(232,89,91,0.5)"/>
<rect x="396.60" y="499.20" width="3.2" height="81.80" fill="rgba(46,153,147,0.5)"/>
<rect x="400.50" y="480.40" width="3.2" height="100.60" fill="rgba(232,89,91,0.5)"/>
<rect x="404.40" y="487.50" width="3.2" height="93.50" fill="rgba(232,89,91,0.5)"/>
<rect x="408.30" y="505.80" width="3.2" height="75.20" fill="rgba(232,89,91,0.5)"/>
<rect x="412.20" y="487.50" width="3.2" height="93.50" fill="rgba(46,153,147,0.5)"/>
<rect x="416.10" y="509.30" width="3.2" height="71.70" fill="rgba(46,153,147,0.5)"/>
<rect x="420.00" y="507.40" width="3.2" height="73.60" fill="rgba(46,153,147,0.5)"/>
<rect x="423.90" y="498.80" width="3.2" height="82.20" fill="rgba(232,89,91,0.5)"/>
<rect x="427.80" y="520.40" width="3.2" height="60.60" fill="rgba(46,153,147,0.5)"/>
<rect x="431.70" y="479.50" width="3.2" height="101.50" fill="rgba(46,153,147,0.5)"/>
<rect x="435.60" y="500.60" width="3.2" height="80.40" fill="rgba(232,89,91,0.5)"/>
<rect x="439.50" y="498.80" width="3.2" height="82.20" fill="rgba(232,89,91,0.5)"/>
<rect x="443.40" y="508.20" width="3.2" height="72.80" fill="rgba(46,153,147,0.5)"/>
<rect x="447.30" y="527.00" width="3.2" height="54.00" fill="rgba(46,153,147,0.5)"/>
<rect x="451.20" y="499.90" width="3.2" height="81.10" fill="rgba(46,153,147,0.5)"/>
<rect x="455.10" y="504.60" width="3.2" height="76.40" fill="rgba(232,89,91,0.5)"/>
<rect x="459.00" y="510.50" width="3.2" height="70.50" fill="rgba(232,89,91,0.5)"/>
<rect x="462.90" y="503.00" width="3.2" height="78.00" fill="rgba(232,89,91,0.5)"/>
<rect x="466.80" y="514.00" width="3.2" height="67.00" fill="rgba(46,153,147,0.5)"/>
<rect x="470.70" y="513.30" width="3.2" height="67.70" fill="rgba(232,89,91,0.5)"/>
<rect x="474.60" y="501.10" width="3.2" height="79.90" fill="rgba(46,153,147,0.5)"/>
<rect x="478.50" y="510.00" width="3.2" height="71.00" fill="rgba(232,89,91,0.5)"/>
<rect x="482.40" y="517.60" width="3.2" height="63.40" fill="rgba(46,153,147,0.5)"/>
<rect x="486.30" y="522.70" width="3.2" height="58.30" fill="rgba(232,89,91,0.5)"/>
<rect x="490.20" y="504.60" width="3.2" height="76.40" fill="rgba(232,89,91,0.5)"/>
<rect x="494.10" y="515.20" width="3.2" height="65.80" fill="rgba(46,153,147,0.5)"/>
<rect x="498.00" y="519.90" width="3.2" height="61.10" fill="rgba(46,153,147,0.5)"/>
<rect x="501.90" y="482.80" width="3.2" height="98.20" fill="rgba(46,153,147,0.5)"/>
<rect x="505.80" y="452.90" width="3.2" height="128.10" fill="rgba(46,153,147,0.5)"/>
<rect x="509.70" y="480.40" width="3.2" height="100.60" fill="rgba(232,89,91,0.5)"/>
<rect x="513.60" y="471.00" width="3.2" height="110.00" fill="rgba(232,89,91,0.5)"/>
<rect x="517.50" y="489.80" width="3.2" height="91.20" fill="rgba(46,153,147,0.5)"/>
<rect x="521.40" y="514.00" width="3.2" height="67.00" fill="rgba(46,153,147,0.5)"/>
<rect x="525.30" y="508.20" width="3.2" height="72.80" fill="rgba(46,153,147,0.5)"/>
<rect x="529.20" y="533.50" width="3.2" height="47.50" fill="rgba(232,89,91,0.5)"/>
<rect x="533.10" y="518.70" width="3.2" height="62.30" fill="rgba(46,153,147,0.5)"/>
<rect x="537.00" y="517.10" width="3.2" height="63.90" fill="rgba(46,153,147,0.5)"/>
<rect x="540.90" y="519.90" width="3.2" height="61.10" fill="rgba(232,89,91,0.5)"/>
<rect x="544.80" y="528.10" width="3.2" height="52.90" fill="rgba(46,153,147,0.5)"/>
<rect x="548.70" y="534.00" width="3.2" height="47.00" fill="rgba(46,153,147,0.5)"/>
<rect x="552.60" y="527.40" width="3.2" height="53.60" fill="rgba(232,89,91,0.5)"/>
<rect x="556.50" y="529.80" width="3.2" height="51.20" fill="rgba(46,153,147,0.5)"/>
<rect x="560.40" y="530.50" width="3.2" height="50.50" fill="rgba(232,89,91,0.5)"/>
<rect x="564.30" y="525.80" width="3.2" height="55.20" fill="rgba(46,153,147,0.5)"/>
<rect x="568.20" y="528.80" width="3.2" height="52.20" fill="rgba(46,153,147,0.5)"/>
<rect x="572.10" y="532.10" width="3.2" height="48.90" fill="rgba(232,89,91,0.5)"/>
<rect x="576.00" y="541.10" width="3.2" height="39.90" fill="rgba(232,89,91,0.5)"/>
<rect x="579.90" y="550.50" width="3.2" height="30.50" fill="rgba(232,89,91,0.5)"/>
<rect x="583.80" y="545.30" width="3.2" height="35.70" fill="rgba(232,89,91,0.5)"/>
<rect x="587.70" y="535.20" width="3.2" height="45.80" fill="rgba(46,153,147,0.5)"/>
<rect x="591.60" y="529.80" width="3.2" height="51.20" fill="rgba(46,153,147,0.5)"/>
<rect x="595.50" y="531.70" width="3.2" height="49.30" fill="rgba(46,153,147,0.5)"/>
<rect x="599.40" y="528.10" width="3.2" height="52.90" fill="rgba(232,89,91,0.5)"/>
<rect x="603.30" y="533.50" width="3.2" height="47.50" fill="rgba(232,89,91,0.5)"/>
<rect x="607.20" y="538.20" width="3.2" height="42.80" fill="rgba(46,153,147,0.5)"/>
<rect x="611.10" y="535.90" width="3.2" height="45.10" fill="rgba(46,153,147,0.5)"/>
<rect x="615.00" y="496.00" width="3.2" height="85.00" fill="rgba(46,153,147,0.5)"/>
<rect x="618.90" y="533.50" width="3.2" height="47.50" fill="rgba(232,89,91,0.5)"/>
<rect x="622.80" y="539.80" width="3.2" height="41.20" fill="rgba(46,153,147,0.5)"/>
<rect x="626.70" y="575.00" width="3.2" height="6.00" fill="rgba(46,153,147,0.5)"/>
<line x1="0" y1="70.5" x2="668" y2="70.5" stroke="#2a8a80" stroke-opacity="0.4" stroke-width="1" stroke-dasharray="1 1"/>
<g font-family="Liberation Sans, Arial, sans-serif" font-size="8.8" fill="#c2c5cc" stroke="#c2c5cc" stroke-width="0.15"><text x="674" y="6.30" textLength="27" lengthAdjust="spacingAndGlyphs">1.28000</text><text x="674" y="28.02" textLength="27" lengthAdjust="spacingAndGlyphs">1.27000</text><text x="674" y="49.74" textLength="27" lengthAdjust="spacingAndGlyphs">1.26000</text><text x="674" y="71.46" textLength="27" lengthAdjust="spacingAndGlyphs">1.25000</text><text x="674" y="93.18" textLength="27" lengthAdjust="spacingAndGlyphs">1.24000</text><text x="674" y="114.90" textLength="27" lengthAdjust="spacingAndGlyphs">1.23000</text><text x="674" y="136.62" textLength="27" lengthAdjust="spacingAndGlyphs">1.22000</text><text x="674" y="158.34" textLength="27" lengthAdjust="spacingAndGlyphs">1.21000</text><text x="674" y="180.06" textLength="27" lengthAdjust="spacingAndGlyphs">1.20000</text><text x="674" y="201.78" textLength="27" lengthAdjust="spacingAndGlyphs">1.19000</text><text x="674" y="223.50" textLength="27" lengthAdjust="spacingAndGlyphs">1.18000</text><text x="674" y="245.22" textLength="27" lengthAdjust="spacingAndGlyphs">1.17000</text><text x="674" y="266.94" textLength="27" lengthAdjust="spacingAndGlyphs">1.16000</text><text x="674" y="288.66" textLength="27" lengthAdjust="spacingAndGlyphs">1.15000</text><text x="674" y="310.38" textLength="27" lengthAdjust="spacingAndGlyphs">1.14000</text><text x="674" y="332.10" textLength="27" lengthAdjust="spacingAndGlyphs">1.13000</text><text x="674" y="353.82" textLength="27" lengthAdjust="spacingAndGlyphs">1.12000</text><text x="674" y="375.54" textLength="27" lengthAdjust="spacingAndGlyphs">1.11000</text><text x="674" y="397.26" textLength="27" lengthAdjust="spacingAndGlyphs">1.10000</text><text x="674" y="418.98" textLength="27" lengthAdjust="spacingAndGlyphs">1.09000</text><text x="674" y="440.70" textLength="27" lengthAdjust="spacingAndGlyphs">1.08000</text><text x="674" y="462.42" textLength="27" lengthAdjust="spacingAndGlyphs">1.07000</text><text x="674" y="484.14" textLength="27" lengthAdjust="spacingAndGlyphs">1.06000</text><text x="674" y="505.86" textLength="27" lengthAdjust="spacingAndGlyphs">1.05000</text><text x="674" y="527.58" textLength="27" lengthAdjust="spacingAndGlyphs">1.04000</text><text x="674" y="549.30" textLength="27" lengthAdjust="spacingAndGlyphs">1.03000</text><text x="674" y="571.02" textLength="27" lengthAdjust="spacingAndGlyphs">1.02000</text></g>
<rect x="668" y="64" width="40" height="22" rx="1" fill="#0d977f"/>
<g font-family="Liberation Sans, Arial, sans-serif" font-size="8.8" fill="#e8f5f2"><text x="674" y="73.3" textLength="27" lengthAdjust="spacingAndGlyphs">1.24918</text><text x="674" y="82.6" textLength="29.8" lengthAdjust="spacingAndGlyphs">18:56:44</text></g>
<rect x="668.8" y="570" width="36.2" height="10.4" rx="1" fill="#23a290"/>
<text x="674" y="578.6" font-family="Liberation Sans, Arial, sans-serif" font-size="8.6" fill="#d8fbf2" textLength="27.3" lengthAdjust="spacingAndGlyphs">25.936K</text>
<g font-family="Liberation Sans, Arial, sans-serif" font-size="8.6" fill="#c3c6cd" stroke="#c3c6cd" stroke-width="0.15"><text x="52" y="593.2" textLength="12.7" lengthAdjust="spacingAndGlyphs">Oct</text><text x="133.6" y="593.2" textLength="13.0" lengthAdjust="spacingAndGlyphs">Nov</text><text x="219.9" y="593.2" textLength="12.2" lengthAdjust="spacingAndGlyphs">Dec</text><text x="391.7" y="593.2" textLength="12.7" lengthAdjust="spacingAndGlyphs">Feb</text><text x="468.5" y="593.2" textLength="13.3" lengthAdjust="spacingAndGlyphs">Mar</text><text x="558.6" y="593.2" textLength="12.4" lengthAdjust="spacingAndGlyphs">Apr</text><text x="635.8" y="593.2" textLength="14.2" lengthAdjust="spacingAndGlyphs">May</text><text x="302.8" y="593.2" font-weight="bold" fill="#d8dae0" textLength="17.8" lengthAdjust="spacingAndGlyphs">2023</text></g>
<polygon points="689.50,585.60 690.92,587.28 693.11,587.09 692.92,589.28 694.60,590.70 692.92,592.12 693.11,594.31 690.92,594.12 689.50,595.80 688.08,594.12 685.89,594.31 686.08,592.12 684.40,590.70 686.08,589.28 685.89,587.09 688.08,587.28" fill="#868993"/>
<circle cx="689.5" cy="590.7" r="2.35" fill="#141821"/>
<circle cx="639.6" cy="571.4" r="6.2" fill="#1a1d27" stroke="#a92638" stroke-width="1.6"/><clipPath id="fl0"><circle cx="639.8000000000001" cy="571.3" r="4.5"/></clipPath><g clip-path="url(#fl0)"><rect x="635.3000000000001" y="566.80" width="9.0" height="1.34" fill="#d0505a"/><rect x="635.3000000000001" y="568.09" width="9.0" height="1.34" fill="#f0e6e8"/><rect x="635.3000000000001" y="569.37" width="9.0" height="1.34" fill="#d0505a"/><rect x="635.3000000000001" y="570.66" width="9.0" height="1.34" fill="#f0e6e8"/><rect x="635.3000000000001" y="571.94" width="9.0" height="1.34" fill="#d0505a"/><rect x="635.3000000000001" y="573.23" width="9.0" height="1.34" fill="#f0e6e8"/><rect x="635.3000000000001" y="574.51" width="9.0" height="1.34" fill="#d0505a"/><rect x="635.3000000000001" y="566.8" width="4.73" height="4.27" fill="#4a86d6"/></g><circle cx="635.3" cy="571.4" r="6.2" fill="#1a1d27" stroke="#a92638" stroke-width="1.6"/><clipPath id="fl1"><circle cx="635.5" cy="571.3" r="4.5"/></clipPath><g clip-path="url(#fl1)"><rect x="631.0" y="566.80" width="9.0" height="1.34" fill="#d0505a"/><rect x="631.0" y="568.09" width="9.0" height="1.34" fill="#f0e6e8"/><rect x="631.0" y="569.37" width="9.0" height="1.34" fill="#d0505a"/><rect x="631.0" y="570.66" width="9.0" height="1.34" fill="#f0e6e8"/><rect x="631.0" y="571.94" width="9.0" height="1.34" fill="#d0505a"/><rect x="631.0" y="573.23" width="9.0" height="1.34" fill="#f0e6e8"/><rect x="631.0" y="574.51" width="9.0" height="1.34" fill="#d0505a"/><rect x="631.0" y="566.8" width="4.73" height="4.27" fill="#4a86d6"/></g><circle cx="627.4" cy="571.6" r="6.2" fill="#1a1d27" stroke="#6a3f9e" stroke-width="1.0"/><circle cx="631.0" cy="571.4" r="6.3" fill="#1a1d27" stroke="#a92638" stroke-width="1.6"/><clipPath id="fl9"><circle cx="631.2" cy="571.2" r="4.6"/></clipPath><g clip-path="url(#fl9)"><rect x="626.6" y="566.60" width="9.2" height="1.36" fill="#d0505a"/><rect x="626.6" y="567.91" width="9.2" height="1.36" fill="#f0e6e8"/><rect x="626.6" y="569.23" width="9.2" height="1.36" fill="#d0505a"/><rect x="626.6" y="570.54" width="9.2" height="1.36" fill="#f0e6e8"/><rect x="626.6" y="571.86" width="9.2" height="1.36" fill="#d0505a"/><rect x="626.6" y="573.17" width="9.2" height="1.36" fill="#f0e6e8"/><rect x="626.6" y="574.49" width="9.2" height="1.36" fill="#d0505a"/><rect x="626.6" y="566.6" width="4.83" height="4.37" fill="#4a86d6"/></g>
<g transform="translate(7.8,558.8) scale(0.556)" fill="#e9eaee" stroke="#0c0e14" stroke-width="2.6" paint-order="stroke"><path d="M14 22H7V11H0V4h14v18z"/><path d="M28 22h-8l7.5-18h8L28 22z"/><circle cx="20" cy="8" r="4"/></g>
<text x="31.3" y="571.1" font-family="Liberation Sans, Arial, sans-serif" font-weight="bold" font-size="13.6" fill="#e9eaee" stroke="#0c0e14" stroke-width="1.6" paint-order="stroke" textLength="78.7" lengthAdjust="spacingAndGlyphs">TradingView</text>
<g font-family="Liberation Sans, Arial, sans-serif"><text x="6.0" y="14.9" font-size="10.8" fill="#d1d4dc" stroke="#d1d4dc" stroke-width="0.3" textLength="121.9" lengthAdjust="spacingAndGlyphs">British Pound / U.S. Dollar</text><text x="130.2" y="14.9" font-size="10.8" fill="#d1d4dc" stroke="#d1d4dc" stroke-width="0.3" textLength="2.4" lengthAdjust="spacingAndGlyphs">·</text><text x="137.2" y="14.9" font-size="10.8" fill="#d1d4dc" stroke="#d1d4dc" stroke-width="0.3" textLength="9.3" lengthAdjust="spacingAndGlyphs">1D</text><text x="149.6" y="14.9" font-size="10.8" fill="#d1d4dc" stroke="#d1d4dc" stroke-width="0.3" textLength="2.4" lengthAdjust="spacingAndGlyphs">·</text><text x="155.8" y="14.9" font-size="10.8" fill="#d1d4dc" stroke="#d1d4dc" stroke-width="0.3" textLength="25.0" lengthAdjust="spacingAndGlyphs">FXCM</text><path d="M203.9 4.8 H197.7 A6.1 6.1 0 0 0 197.7 17 H203.9 Z" fill="#1f2d33"/><path d="M203.9 4.8 H210.8 A6.1 6.1 0 0 1 210.8 17 H203.9 Z" fill="#6e2848"/><circle cx="198.2" cy="10.9" r="2.8" fill="#16a583"/><g fill="#c8265a"><rect x="208.3" y="8.6" width="4" height="0.9"/><rect x="208.3" y="10.5" width="4" height="0.9"/><rect x="208.3" y="12.4" width="4" height="0.9"/></g><text x="226.7" y="15.2" font-size="8.3" fill="#d1d4dc" stroke="#d1d4dc" stroke-width="0.25" textLength="6.0" lengthAdjust="spacingAndGlyphs">O</text><text x="233.3" y="15.2" font-size="8.3" fill="#22a88c" textLength="29.5" lengthAdjust="spacingAndGlyphs">1.24849</text><text x="267" y="15.2" font-size="8.3" fill="#d1d4dc" stroke="#d1d4dc" stroke-width="0.25" textLength="5.1" lengthAdjust="spacingAndGlyphs">H</text><text x="273.3" y="15.2" font-size="8.3" fill="#22a88c" textLength="29.0" lengthAdjust="spacingAndGlyphs">1.25072</text><text x="307" y="15.2" font-size="8.3" fill="#d1d4dc" stroke="#d1d4dc" stroke-width="0.25" textLength="3.7" lengthAdjust="spacingAndGlyphs">L</text><text x="312.2" y="15.2" font-size="8.3" fill="#22a88c" textLength="29.5" lengthAdjust="spacingAndGlyphs">1.24697</text><text x="345.6" y="15.2" font-size="8.3" fill="#d1d4dc" stroke="#d1d4dc" stroke-width="0.25" textLength="4.5" lengthAdjust="spacingAndGlyphs">C</text><text x="351.3" y="15.2" font-size="8.3" fill="#22a88c" textLength="29.0" lengthAdjust="spacingAndGlyphs">1.24918</text><text x="385.6" y="15.2" font-size="8.3" fill="#22a88c" textLength="32.7" lengthAdjust="spacingAndGlyphs">+0.00069</text><text x="421.6" y="15.2" font-size="8.3" fill="#22a88c" textLength="32.1" lengthAdjust="spacingAndGlyphs">(+0.06%)</text><rect x="5.4" y="22.3" width="39.4" height="16" rx="2.5" fill="#161a23" stroke="#8c2d42" stroke-width="1"/><text x="11.4" y="33.6" font-size="8.3" fill="#e03a4e" textLength="23.3" lengthAdjust="spacingAndGlyphs">1.2491</text><text x="35.9" y="31.5" font-size="6.6" fill="#e03a4e" textLength="3.4" lengthAdjust="spacingAndGlyphs">8</text><text x="49.9" y="32.9" font-size="8.3" fill="#c2c5cc" textLength="9.6" lengthAdjust="spacingAndGlyphs">0.7</text><rect x="65.2" y="22.6" width="39.4" height="15.6" rx="2.5" fill="#161a23" stroke="#2e4a9e" stroke-width="1"/><text x="71.1" y="33.6" font-size="8.3" fill="#3f6ad8" textLength="23.8" lengthAdjust="spacingAndGlyphs">1.2492</text><text x="96.3" y="31.5" font-size="6.6" fill="#3f6ad8" textLength="2.9" lengthAdjust="spacingAndGlyphs">5</text><text x="5.9" y="52.7" font-size="8.4" fill="#d1d4dc" textLength="11" lengthAdjust="spacingAndGlyphs">Vol</text><text x="26.2" y="52.7" font-size="8.4" fill="#22a88c" textLength="30" lengthAdjust="spacingAndGlyphs">25.936K</text><text x="325" y="35.8" font-size="12.8" fill="#f4f4f4" textLength="90.8" lengthAdjust="spacingAndGlyphs">www.nehcap.com</text></g>
</svg>
</div></body></html>
